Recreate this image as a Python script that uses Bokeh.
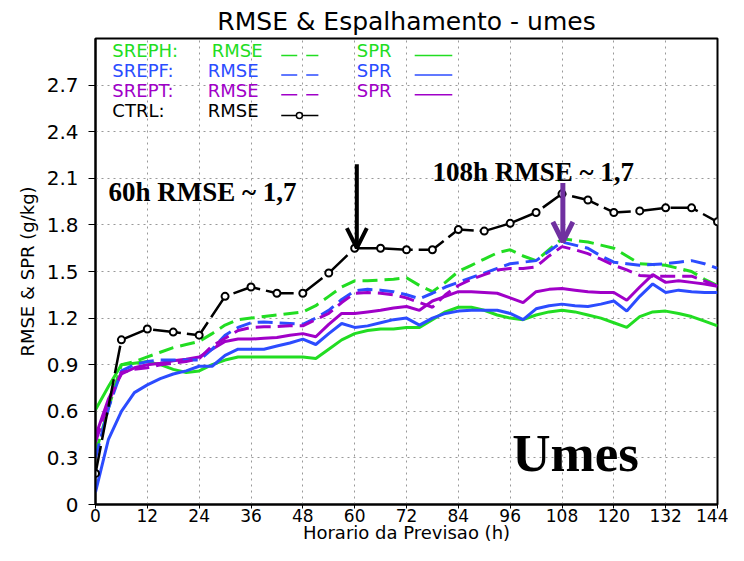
from bokeh.plotting import figure
from bokeh.models import Range1d, FixedTicker, Label, Arrow, OpenHead
from bokeh.embed import file_html
from bokeh.resources import INLINE

# ---------------- data ----------------
hours = list(range(0, 145, 3))
ctrl_hours = list(range(0, 145, 6))
ctrl_rmse = [0.20, 1.06, 1.13, 1.11, 1.09, 1.34, 1.40, 1.36, 1.36, 1.49, 1.65, 1.65, 1.64,
             1.64, 1.77, 1.76, 1.81, 1.88, 2.00, 1.96, 1.88, 1.89, 1.91, 1.91, 1.82]

sreph_rmse = [0.33, 0.62, 0.90, 0.92, 0.95, 0.98, 1.01, 1.03, 1.05, 1.10, 1.155, 1.19, 1.20,
              1.21, 1.22, 1.23, 1.24, 1.28, 1.34, 1.40, 1.44, 1.44, 1.445, 1.45, 1.46, 1.41,
              1.37, 1.43, 1.50, 1.54, 1.58, 1.62, 1.64, 1.60, 1.57, 1.64, 1.71, 1.70, 1.69,
              1.67, 1.65, 1.60, 1.55, 1.545, 1.54, 1.52, 1.50, 1.45, 1.41]
sreph_spr = [0.61, 0.76, 0.90, 0.91, 0.92, 0.90, 0.87, 0.85, 0.86, 0.90, 0.93, 0.95, 0.95,
             0.95, 0.95, 0.95, 0.95, 0.94, 1.00, 1.06, 1.10, 1.12, 1.13, 1.13, 1.14, 1.14,
             1.19, 1.24, 1.27, 1.27, 1.25, 1.22, 1.20, 1.19, 1.22, 1.24, 1.25, 1.24, 1.22,
             1.20, 1.17, 1.14, 1.21, 1.24, 1.245, 1.23, 1.21, 1.18, 1.15]
srepf_rmse = [0.30, 0.62, 0.86, 0.90, 0.92, 0.93, 0.93, 0.93, 0.93, 1.00, 1.09, 1.14, 1.17,
              1.175, 1.17, 1.165, 1.16, 1.20, 1.25, 1.32, 1.375, 1.385, 1.38, 1.37, 1.35, 1.325,
              1.36, 1.40, 1.43, 1.46, 1.49, 1.52, 1.55, 1.56, 1.57, 1.63, 1.69, 1.67, 1.65,
              1.60, 1.56, 1.55, 1.54, 1.545, 1.55, 1.56, 1.57, 1.55, 1.52]
srepf_spr = [0.08, 0.42, 0.60, 0.72, 0.77, 0.81, 0.84, 0.86, 0.89, 0.89, 0.96, 1.00, 1.00,
             1.00, 1.02, 1.04, 1.065, 1.03, 1.10, 1.165, 1.14, 1.15, 1.17, 1.19, 1.20, 1.155,
             1.20, 1.23, 1.245, 1.25, 1.25, 1.25, 1.23, 1.19, 1.26, 1.28, 1.29, 1.28, 1.275,
             1.29, 1.31, 1.245, 1.34, 1.42, 1.365, 1.38, 1.37, 1.365, 1.365]
srept_rmse = [0.40, 0.66, 0.85, 0.87, 0.88, 0.90, 0.91, 0.92, 0.94, 1.02, 1.07, 1.12, 1.14,
              1.145, 1.145, 1.15, 1.15, 1.19, 1.23, 1.30, 1.36, 1.365, 1.36, 1.35, 1.33, 1.30,
              1.27, 1.35, 1.41, 1.45, 1.48, 1.51, 1.52, 1.52, 1.53, 1.60, 1.66, 1.64, 1.615,
              1.58, 1.54, 1.51, 1.475, 1.47, 1.47, 1.47, 1.47, 1.44, 1.405]
srept_spr = [0.44, 0.68, 0.84, 0.88, 0.90, 0.91, 0.925, 0.935, 0.95, 1.00, 1.05, 1.065, 1.065,
             1.07, 1.075, 1.09, 1.10, 1.08, 1.16, 1.23, 1.23, 1.24, 1.25, 1.265, 1.275, 1.25,
             1.31, 1.34, 1.37, 1.37, 1.365, 1.36, 1.33, 1.30, 1.37, 1.385, 1.39, 1.38, 1.37,
             1.365, 1.365, 1.315, 1.40, 1.48, 1.43, 1.44, 1.43, 1.42, 1.405]

x_ticks = [0, 12, 24, 36, 48, 60, 72, 84, 96, 108, 120, 132, 144]
y_ticks = [0, 0.3, 0.6, 0.9, 1.2, 1.5, 1.8, 2.1, 2.4, 2.7]
y_tick_labels = ["0", "0.3", "0.6", "0.9", "1.2", "1.5", "1.8", "2.1", "2.4", "2.7"]

title_text = "RMSE & Espalhamento - umes"
x_label = "Horario da Previsao (h)"
y_label = "RMSE & SPR (g/kg)"

GREEN = "#22dd22"
BLUE = "#2c4cff"
PURPLE = "#a000c8"
ARROW_PURPLE = "#7030a0"
FONT = "DejaVu Sans"
SERIF = "Liberation Serif"

p = figure(width=728, height=545, output_backend="svg", toolbar_location=None,
           x_range=Range1d(0, 144), y_range=Range1d(0, 3.0),
           min_border_left=95, min_border_right=11, min_border_top=38, min_border_bottom=39)

p.title.text = title_text
p.title.align = "center"
p.title.text_font = FONT
p.title.text_font_size = "25px"
p.title.text_font_style = "normal"
p.title.text_color = "black"
p.title.standoff = 5

p.outline_line_color = "black"
p.outline_line_width = 2
p.background_fill_color = "white"
p.border_fill_color = "white"

p.xaxis.ticker = FixedTicker(ticks=x_ticks)
p.yaxis.ticker = FixedTicker(ticks=y_ticks)
p.yaxis.major_label_overrides = {t: l for t, l in zip(y_ticks, y_tick_labels)}
for ax in (p.xaxis, p.yaxis):
    ax.axis_line_width = 2
    ax.axis_line_color = "black"
    ax.major_tick_line_color = "black"
    ax.major_tick_in = 0
    ax.minor_tick_line_color = None
    ax.major_label_text_font = FONT
    ax.major_label_text_color = "black"
    ax.axis_label_text_font = FONT
    ax.axis_label_text_font_style = "normal"
    ax.axis_label_text_color = "black"
p.xaxis.major_tick_out = 4
p.yaxis.major_tick_out = 7
p.xaxis.major_label_text_font_size = "17px"
p.yaxis.major_label_text_font_size = "20px"
p.xaxis.major_label_standoff = 0
p.yaxis.major_label_standoff = 10
p.xaxis.axis_label = x_label
p.xaxis.axis_label_text_font_size = "18px"
p.xaxis.axis_label_standoff = -3
p.yaxis.axis_label = y_label
p.yaxis.axis_label_text_font_size = "18px"
p.yaxis.axis_label_standoff = 6

for g in (p.xgrid, p.ygrid):
    g.grid_line_color = "#999999"
    g.grid_line_dash = "2 4"
    g.grid_line_width = 1
p.xgrid.ticker = FixedTicker(ticks=x_ticks)
p.ygrid.ticker = FixedTicker(ticks=y_ticks)

# ---------------- series ----------------
LW = 3
DASH = "15 7"
p.line(hours, sreph_spr, color=GREEN, line_width=LW)
p.line(hours, srepf_spr, color=BLUE, line_width=LW)
p.line(hours, srept_spr, color=PURPLE, line_width=LW)
p.line(hours, sreph_rmse, color=GREEN, line_width=LW, line_dash=DASH)
p.line(hours, srepf_rmse, color=BLUE, line_width=LW, line_dash=DASH)
p.line(hours, srept_rmse, color=PURPLE, line_width=LW, line_dash=DASH)
p.line(ctrl_hours, ctrl_rmse, color="black", line_width=2.5, line_dash="28 6")
p.scatter(ctrl_hours, ctrl_rmse, marker="circle", size=7, fill_color="white",
          line_color="black", line_width=2)

# ---------------- legend (custom GrADS-like) ----------------
rows = [("SREPH:", GREEN, "dash", 2.92), ("SREPF:", BLUE, "dash", 2.795),
        ("SREPT:", PURPLE, "dash", 2.668), ("CTRL:", "black", "ctrl", 2.535)]
for name, col, kind, yy in rows:
    p.add_layout(Label(x=3.9, y=yy, text=name, text_font=FONT, text_font_size="18px",
                       text_color=col, text_baseline="middle"))
    p.add_layout(Label(x=26.0 if name != "SREPH:" else 26.9, y=yy, text="RMSE", text_font=FONT,
                       text_font_size="18px", text_color=col, text_baseline="middle"))
    ly = yy - 0.03
    if kind == "dash":
        p.line([43.0, 51.6], [ly, ly], color=col, line_width=1.5, line_dash="16 9")
        p.add_layout(Label(x=60.5, y=yy, text="SPR", text_font=FONT, text_font_size="18px",
                           text_color=col, text_baseline="middle"))
        p.line([73.9, 82.6], [ly, ly], color=col, line_width=1.5)
    else:
        p.line([43.0, 51.6], [ly, ly], color=col, line_width=1.5)
        p.scatter([47.2], [ly], marker="circle", size=6, fill_color="white",
                  line_color="black", line_width=1.5)

# ---------------- annotations ----------------
p.add_layout(Label(x=3.0, y=2.015, text="60h RMSE ~ 1,7", text_font=SERIF,
                   text_font_size="27px", text_font_style="bold", text_color="black",
                   text_baseline="alphabetic"))
p.add_layout(Label(x=78.0, y=2.14, text="108h RMSE ~ 1,7", text_font=SERIF,
                   text_font_size="27px", text_font_style="bold", text_color="black",
                   text_baseline="alphabetic"))
p.add_layout(Label(x=96.5, y=0.33, text="Umes", text_font=SERIF,
                   text_font_size="53px", text_font_style="bold", text_color="black",
                   text_baseline="alphabetic"))

i60 = ctrl_hours.index(60)
p.add_layout(Arrow(end=OpenHead(size=20, line_width=4, line_color="black"),
                   x_start=60.5, y_start=2.19, x_end=60.5, y_end=ctrl_rmse[i60],
                   line_width=4, line_color="black"))
i108 = hours.index(108)
p.add_layout(Arrow(end=OpenHead(size=20, line_width=5, line_color=ARROW_PURPLE),
                   x_start=108.2, y_start=2.07, x_end=108.2, y_end=sreph_rmse[i108] - 0.02,
                   line_width=5, line_color=ARROW_PURPLE))

open("out.html", "w").write(file_html(p, INLINE))
